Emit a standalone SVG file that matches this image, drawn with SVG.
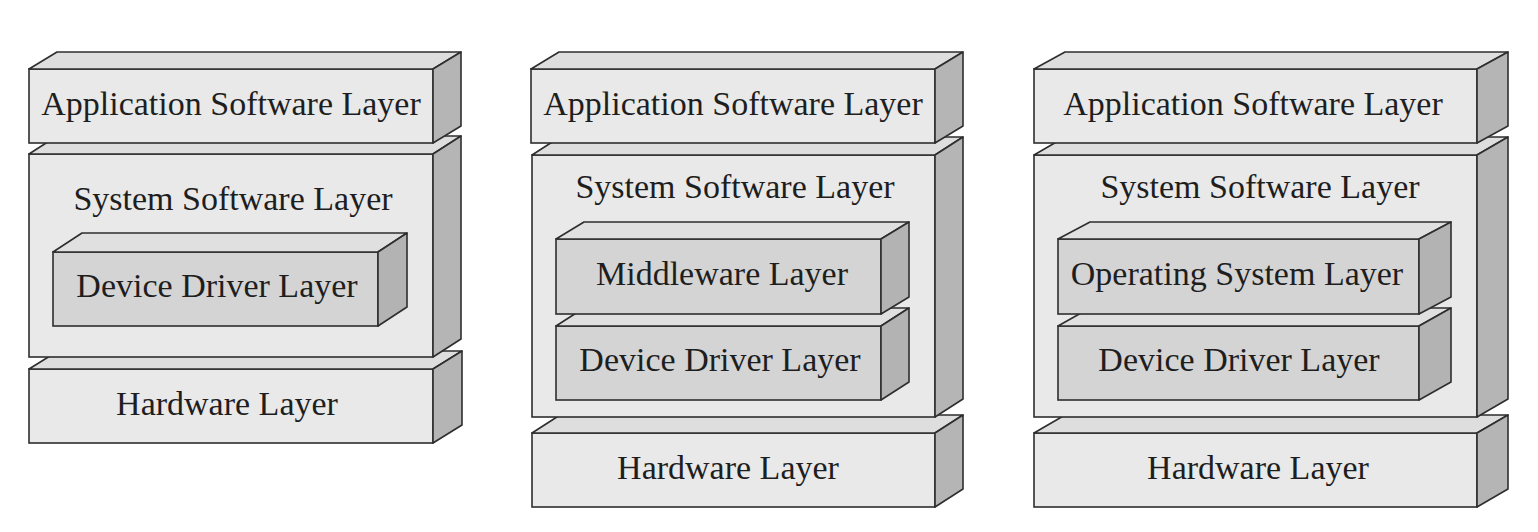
<svg xmlns="http://www.w3.org/2000/svg" width="1538" height="532" viewBox="0 0 1538 532">
<style>
.f{fill:#e9e9e9;stroke:#2e2e2e;stroke-width:1.6}
.t{fill:#dedede;stroke:#2e2e2e;stroke-width:1.6;stroke-linejoin:round}
.s{fill:#b5b5b5;stroke:#2e2e2e;stroke-width:1.6;stroke-linejoin:round}
.in .f{fill:#d4d4d4}
.in .t{fill:#e0e0e0}
.in .s{fill:#b3b3b3}
text{font-family:"Liberation Serif","Times New Roman",serif;font-size:34px;fill:#1e1e1e;text-anchor:middle}
</style>
<rect width="1538" height="532" fill="#ffffff"/>
<g id="stack1">
<g id="s1-hardware">
<rect class="f" x="29" y="369" width="404" height="74"/>
<polygon class="t" points="29,369 58,351 462,351 433,369"/>
<polygon class="s" points="433,369 462,351 462,425 433,443"/>
<text x="227" y="415">Hardware Layer</text>
</g>
<g id="s1-system">
<rect class="f" x="29" y="154" width="404" height="203"/>
<polygon class="t" points="29,154 57,136 461,136 433,154"/>
<polygon class="s" points="433,154 461,136 461,339 433,357"/>
<text x="233" y="210">System Software Layer</text>
</g>
<g id="s1-driver" class="in">
<rect class="f" x="53" y="252" width="325" height="74"/>
<polygon class="t" points="53,252 82,233 407,233 378,252"/>
<polygon class="s" points="378,252 407,233 407,307 378,326"/>
<text x="217" y="297">Device Driver Layer</text>
</g>
<g id="s1-app">
<rect class="f" x="29" y="69" width="404" height="74"/>
<polygon class="t" points="29,69 57,52 461,52 433,69"/>
<polygon class="s" points="433,69 461,52 461,126 433,143"/>
<text x="231" y="115">Application Software Layer</text>
</g>
</g>
<g id="stack2">
<g id="s2-hardware">
<rect class="f" x="532" y="433" width="403" height="74"/>
<polygon class="t" points="532,433 560,415 963,415 935,433"/>
<polygon class="s" points="935,433 963,415 963,489 935,507"/>
<text x="728" y="479">Hardware Layer</text>
</g>
<g id="s2-system">
<rect class="f" x="532" y="155" width="403" height="262"/>
<polygon class="t" points="532,155 560,137 963,137 935,155"/>
<polygon class="s" points="935,155 963,137 963,399 935,417"/>
<text x="735" y="198">System Software Layer</text>
</g>
<g id="s2-driver" class="in">
<rect class="f" x="556" y="326" width="325" height="74"/>
<polygon class="t" points="556,326 584,308 909,308 881,326"/>
<polygon class="s" points="881,326 909,308 909,382 881,400"/>
<text x="720" y="371">Device Driver Layer</text>
</g>
<g id="s2-middleware" class="in">
<rect class="f" x="556" y="239" width="325" height="75"/>
<polygon class="t" points="556,239 584,222 909,222 881,239"/>
<polygon class="s" points="881,239 909,222 909,297 881,314"/>
<text x="722" y="285">Middleware Layer</text>
</g>
<g id="s2-app">
<rect class="f" x="531" y="69" width="404" height="74"/>
<polygon class="t" points="531,69 559,52 963,52 935,69"/>
<polygon class="s" points="935,69 963,52 963,126 935,143"/>
<text x="733" y="115">Application Software Layer</text>
</g>
</g>
<g id="stack3">
<g id="s3-hardware">
<rect class="f" x="1034" y="433" width="443" height="74"/>
<polygon class="t" points="1034,433 1065,415 1508,415 1477,433"/>
<polygon class="s" points="1477,433 1508,415 1508,489 1477,507"/>
<text x="1258" y="479">Hardware Layer</text>
</g>
<g id="s3-system">
<rect class="f" x="1034" y="155" width="443" height="262"/>
<polygon class="t" points="1034,155 1065,137 1508,137 1477,155"/>
<polygon class="s" points="1477,155 1508,137 1508,399 1477,417"/>
<text x="1260" y="198">System Software Layer</text>
</g>
<g id="s3-driver" class="in">
<rect class="f" x="1058" y="326" width="361" height="74"/>
<polygon class="t" points="1058,326 1090,308 1451,308 1419,326"/>
<polygon class="s" points="1419,326 1451,308 1451,382 1419,400"/>
<text x="1239" y="371">Device Driver Layer</text>
</g>
<g id="s3-os" class="in">
<rect class="f" x="1058" y="239" width="361" height="75"/>
<polygon class="t" points="1058,239 1090,222 1451,222 1419,239"/>
<polygon class="s" points="1419,239 1451,222 1451,297 1419,314"/>
<text x="1237" y="285">Operating System Layer</text>
</g>
<g id="s3-app">
<rect class="f" x="1034" y="69" width="443" height="74"/>
<polygon class="t" points="1034,69 1065,52 1508,52 1477,69"/>
<polygon class="s" points="1477,69 1508,52 1508,126 1477,143"/>
<text x="1253" y="115">Application Software Layer</text>
</g>
</g>
</svg>
